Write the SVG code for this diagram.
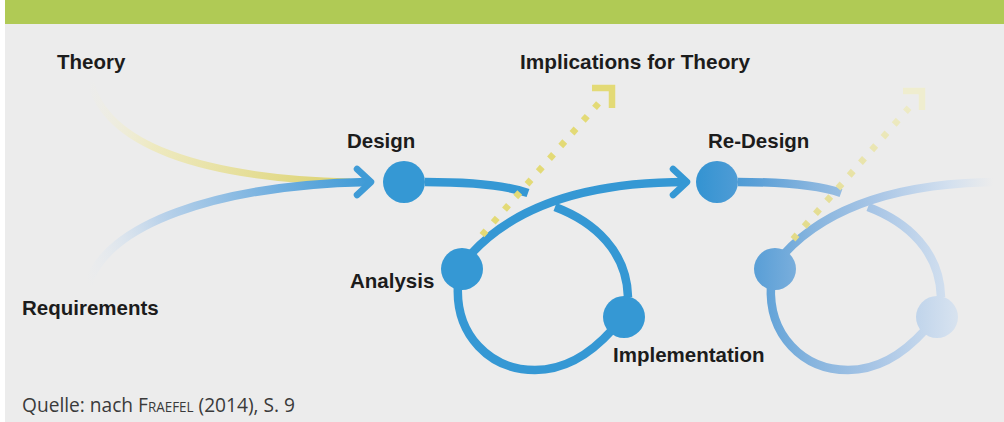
<svg xmlns="http://www.w3.org/2000/svg" width="1004" height="422" viewBox="0 0 1004 422">
<defs>
<style>
.lbl{font-family:"Liberation Sans",Arial,sans-serif;font-weight:bold;font-size:20.5px;fill:#1c1c1c}
.cap{font-family:"Open Sans","Noto Sans","Liberation Sans",sans-serif;font-size:20px;fill:#3a3a3a}
.ln{fill:none;stroke-width:8.5;stroke-linecap:butt}
.b1{stroke:#3598d4}
.chev{fill:none;stroke-width:6.5;stroke-linecap:round;stroke-linejoin:round}
.dot{fill:none;stroke-width:6.5;stroke-dasharray:6 11}
.ah{fill:none;stroke-width:6.5;stroke-linejoin:miter;stroke-linecap:butt}
</style>
<linearGradient id="gTheory" gradientUnits="userSpaceOnUse" x1="90" y1="80" x2="350" y2="182">
<stop offset="0" stop-color="#f3f1dc" stop-opacity="0"/>
<stop offset="0.3" stop-color="#eee9bb" stop-opacity="0.9"/>
<stop offset="1" stop-color="#dcd26e"/>
</linearGradient>
<linearGradient id="gReq" gradientUnits="userSpaceOnUse" x1="88" y1="285" x2="368" y2="182">
<stop offset="0" stop-color="#e4ebf3" stop-opacity="0"/>
<stop offset="0.3" stop-color="#bcd3ea"/>
<stop offset="0.7" stop-color="#72afdf"/>
<stop offset="1" stop-color="#3f9bd6"/>
</linearGradient>
<linearGradient id="gFade" gradientUnits="userSpaceOnUse" x1="387" y1="0" x2="680" y2="0">
<stop offset="0" stop-color="#3694d2"/>
<stop offset="0.2" stop-color="#5ca0d7"/>
<stop offset="0.38" stop-color="#86b4de"/>
<stop offset="0.6" stop-color="#a9c6e6"/>
<stop offset="0.85" stop-color="#d3e0ef"/>
<stop offset="1" stop-color="#ececec"/>
</linearGradient>
<linearGradient id="gDot2" gradientUnits="userSpaceOnUse" x1="0" y1="240" x2="0" y2="88">
<stop offset="0" stop-color="#e2da86"/>
<stop offset="1" stop-color="#efedcf"/>
</linearGradient>
</defs>

<rect x="0" y="0" width="1004" height="422" fill="#ffffff"/>
<rect x="5" y="0" width="999" height="422" fill="#ececec"/>
<rect x="5" y="0" width="999" height="24" fill="#b0ca55"/>

<g id="connectors">
  <path id="theory-line" d="M90 80 C105 145 200 178 350 182" fill="none" stroke="url(#gTheory)" stroke-width="7"/>
  <path id="req-line" d="M88 285 C105 225 215 185 368 182" fill="none" stroke="url(#gReq)" stroke-width="8.5"/>
  <polyline points="357,169 371,182 357,195" class="chev" stroke="#3f9bd6"/>

  <g id="loop1">
    <path class="ln b1" d="M425 182 C470 182 505 185 528 193"/>
    <path class="ln b1" d="M555 207 C595 222 627 252 628 297"/>
    <path class="ln b1" d="M612 330 C585 360 560 370 535 370 C490 370 455 335 458 285"/>
    <path class="ln b1" d="M470 255 C515 205 590 182 686 182"/>
    <polyline points="673,169 687,182 673,195" class="chev" stroke="#3598d4"/>
  </g>

  <g id="loop2" transform="translate(313,0)">
    <path class="ln" stroke="url(#gFade)" d="M425 182 C470 182 505 185 528 193"/>
    <path class="ln" stroke="url(#gFade)" d="M555 207 C595 222 627 252 628 297"/>
    <path class="ln" stroke="url(#gFade)" d="M612 330 C585 360 560 370 535 370 C490 370 455 335 458 285"/>
    <path class="ln" stroke="url(#gFade)" d="M470 255 C515 205 590 182 690 182"/>
  </g>
</g>

<g id="node-design"><circle cx="404" cy="182" r="21" fill="#3598d4"/><text class="lbl" x="347" y="148">Design</text></g>
<g id="node-analysis"><circle cx="462" cy="269" r="21" fill="#3598d4"/><text class="lbl" x="350" y="288">Analysis</text></g>
<g id="node-implementation"><circle cx="624" cy="317" r="21" fill="#3598d4"/><text class="lbl" x="613" y="362">Implementation</text></g>
<g id="node-redesign"><circle cx="404" cy="182" r="21" fill="url(#gFade)" transform="translate(313,0)"/><text class="lbl" x="708" y="148">Re-Design</text></g>
<g id="node-analysis2" transform="translate(313,0)"><circle cx="462" cy="269" r="21" fill="url(#gFade)"/></g>
<g id="node-implementation2" transform="translate(313,0)"><circle cx="624" cy="317" r="21" fill="url(#gFade)"/></g>

<g id="node-theory"><text class="lbl" x="57" y="69">Theory</text></g>
<g id="node-requirements"><text class="lbl" x="22" y="315">Requirements</text></g>

<g id="node-implications">
  <path class="dot" stroke="#e3da76" d="M482 235.2 L598.5 103.3"/>
  <polyline class="ah" stroke="#e3da76" points="592,88 612,88 612,108"/>
  <text class="lbl" x="520" y="69" textLength="230" lengthAdjust="spacingAndGlyphs">Implications for Theory</text>
</g>
<g id="node-implications2">
  <path class="dot" stroke="url(#gDot2)" d="M793 239.25 L909 107.75"/>
  <polyline class="ah" stroke="#efedcf" points="903,91 922,91 922,110"/>
</g>

<text class="cap" x="22" y="412" textLength="273" lengthAdjust="spacingAndGlyphs">Quelle: nach <tspan font-variant="small-caps">Fraefel</tspan> (2014), S. 9</text>
</svg>
